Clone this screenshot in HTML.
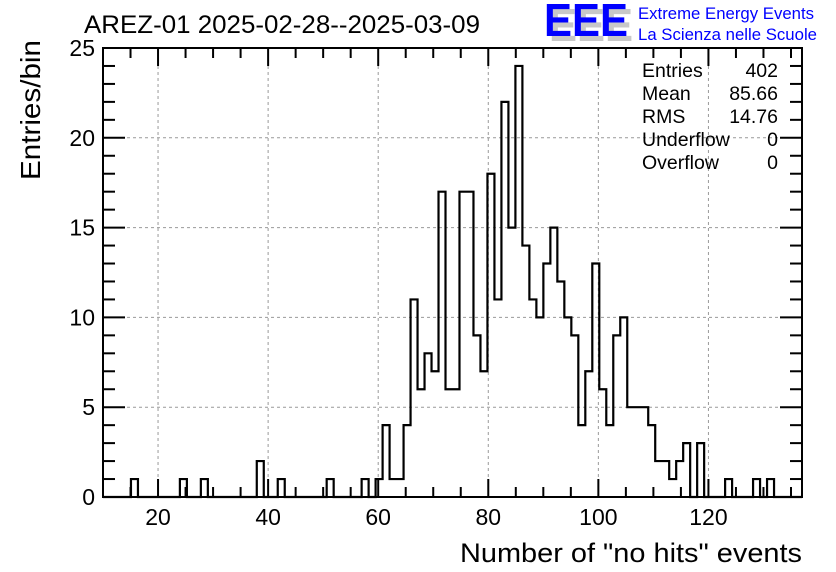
<!DOCTYPE html>
<html><head><meta charset="utf-8"><style>
body{margin:0;background:#fff}
svg{display:block;font-family:"Liberation Sans",sans-serif}
</style></head><body>
<svg id="c" width="836" height="572" viewBox="0 0 836 572">
<rect width="836" height="572" fill="#fff"/>
<text x="84" y="33" font-size="25" textLength="396" lengthAdjust="spacingAndGlyphs">AREZ-01 2025-02-28--2025-03-09</text>
<g>
<text x="549" y="41" font-size="46" fill="#c8c8c8" font-weight="bold" textLength="84" lengthAdjust="spacingAndGlyphs">EEE</text>
<text x="544" y="36" font-size="46" fill="#0000ff" font-weight="bold" textLength="84" lengthAdjust="spacingAndGlyphs">EEE</text>
<text x="638" y="19" font-size="16.5" fill="#0000ff" textLength="176" lengthAdjust="spacingAndGlyphs">Extreme Energy Events</text>
<text x="638" y="40" font-size="16.5" fill="#0000ff" textLength="179" lengthAdjust="spacingAndGlyphs">La Scienza nelle Scuole</text>
</g>
<g id="grid"></g>
<g id="ticks"></g>
<path id="hist" fill="none" stroke="#000" stroke-width="2.2"/>
<rect x="103" y="48" width="699" height="449" fill="none" stroke="#000" stroke-width="2"/>
<g id="labels" font-size="23"></g>
<text x="0" y="0" font-size="28" text-anchor="end" transform="translate(40,40) rotate(-90)" textLength="140" lengthAdjust="spacingAndGlyphs">Entries/bin</text>
<text x="802" y="562" font-size="27" text-anchor="end" textLength="342" lengthAdjust="spacingAndGlyphs">Number of "no hits" events</text>
<g font-size="19.5">
<text x="642" y="77">Entries</text><text x="778" y="77" text-anchor="end">402</text>
<text x="642" y="100">Mean</text><text x="778" y="100" text-anchor="end">85.66</text>
<text x="642" y="123">RMS</text><text x="778" y="123" text-anchor="end">14.76</text>
<text x="642" y="146">Underflow</text><text x="778" y="146" text-anchor="end">0</text>
<text x="642" y="169">Overflow</text><text x="778" y="169" text-anchor="end">0</text>
</g>
</svg>
<script>
const xMin = 10, binWidth = 1.27;
const counts = [0,0,0,0,1,0,0,0,0,0, 0,1,0,0,1,0,0,0,0,0, 0,0,2,0,0,1,0,0,0,0,
 0,0,1,0,0,0,0,1,0,1, 4,1,1,4,11,6,8,7,17,6, 6,17,17,9,7,18,11,22,15,24,
 14,11,10,13,15,12,10,9,4,7, 13,6,4,9,10,5,5,5,4,2, 2,1,2,3,0,3,0,0,0,1,
 0,0,0,1,0,1,0,0,0,0];
const xTicks = [20,40,60,80,100,120];
const yTicks = [0,5,10,15,20,25];
const L=103,R=802,T=48,B=497, XMAX=137, YMAX=25;
const X=v=>L+(v-xMin)/(XMAX-xMin)*(R-L);
const Y=v=>B-v/YMAX*(B-T);
const NS='http://www.w3.org/2000/svg';
function mk(t,a,p){const e=document.createElementNS(NS,t);for(const k in a)e.setAttribute(k,a[k]);p.appendChild(e);return e;}
const g=document.getElementById('grid'), tk=document.getElementById('ticks'), lb=document.getElementById('labels');
xTicks.forEach(v=>{const l=mk('line',{x1:X(v),x2:X(v),y1:T,y2:B,stroke:'#999','stroke-dasharray':'3,3'},g);


const t=mk('text',{x:X(v),y:B+28,'text-anchor':'middle'},lb);t.textContent=v;

});
yTicks.forEach(v=>{if(v>0&&v<YMAX){const l=mk('line',{x1:L,x2:R,y1:Y(v),y2:Y(v),stroke:'#999','stroke-dasharray':'3,3'},g);

}
const t=mk('text',{x:L-8,y:Y(v)+8,'text-anchor':'end'},lb);t.textContent=v;

});
for(let v=15;v<=XMAX;v+=5){const len=v%20===0?18:10;
mk('line',{x1:X(v),x2:X(v),y1:B,y2:B-len,stroke:'#000','stroke-width':2},tk);
mk('line',{x1:X(v),x2:X(v),y1:T,y2:T+len,stroke:'#000','stroke-width':2},tk);}
for(let v=0;v<=YMAX;v++){const len=v%5===0?22:12;
mk('line',{x1:L,x2:L+len,y1:Y(v),y2:Y(v),stroke:'#000','stroke-width':2},tk);
mk('line',{x1:R,x2:R-len,y1:Y(v),y2:Y(v),stroke:'#000','stroke-width':2},tk);}
let d='M'+X(xMin)+','+Y(0);
counts.forEach((c,i)=>{const x0=X(xMin+i*binWidth),x1=X(xMin+(i+1)*binWidth);d+=' L'+x0+','+Y(c)+' L'+x1+','+Y(c);});
d+=' L'+X(xMin+counts.length*binWidth)+','+Y(0);
document.getElementById('hist').setAttribute('d',d);
</script>
</body></html>
